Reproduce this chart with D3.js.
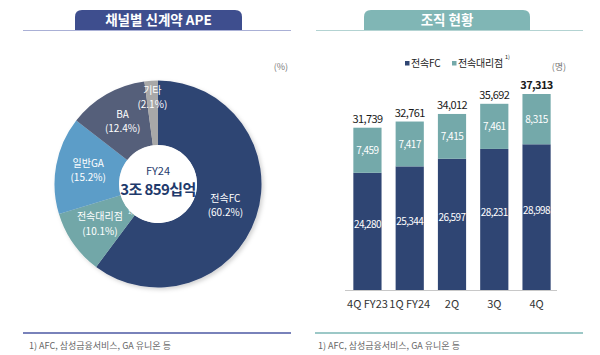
<!DOCTYPE html>
<html><head><meta charset="utf-8">
<script src="https://cdn.jsdelivr.net/npm/d3@7"></script>
<style>
html,body{margin:0;padding:0;background:#fff;}
svg{display:block;font-family:"Noto Sans CJK KR","Noto Sans",sans-serif;}
</style></head>
<body><svg id="c" width="600" height="355"></svg>
<script>
// ---- Donut data (채널별 신계약 APE) ----
const channels = ["전속FC", "전속대리점", "일반GA", "BA", "기타"];
const channelShares = [60.2, 10.1, 15.2, 12.4, 2.1];
const channelColors = ["#2f4573", "#72a7a8", "#5c9dc8", "#555f7a", "#a8a8a8"];
const centerLabel = ["FY24", "3조 859십억"];

// ---- Bar data (조직 현황) ----
const quarters = ["4Q FY23", "1Q FY24", "2Q", "3Q", "4Q"];
const fcCounts = [24280, 25344, 26597, 28231, 28998];
const agencyCounts = [7459, 7417, 7415, 7461, 8315];
const totals = [31739, 32761, 34012, 35692, 37313];
const seriesNames = ["전속FC", "전속대리점"];
const seriesColors = ["#2f4573", "#74a9aa"];

const svg = d3.select("#c");
const fmt = d3.format(",");

// ================= LEFT PANEL =================
function banner(g, x0, x1, y0, y1, r, color, text) {
  const p = `M${x0},${y1} L${x0},${y0+r} Q${x0},${y0} ${x0+r},${y0} L${x1-r},${y0} Q${x1},${y0} ${x1},${y0+r} L${x1},${y1} Z`;
  g.append("path").attr("d", p).attr("fill", color);
  g.append("text").attr("x", (x0+x1)/2).attr("y", (y0+y1)/2 + 5)
    .attr("text-anchor", "middle").attr("fill", "#fff")
    .attr("font-size", 13.5).attr("font-weight", 700).text(text);
}
const L = svg.append("g");
banner(L, 75, 242, 10, 30, 7, "#3e4e8e", "채널별 신계약 APE");
L.append("line").attr("x1", 23).attr("x2", 291).attr("y1", 30.5).attr("y2", 30.5)
  .attr("stroke", "#aab0d6").attr("stroke-width", 1);
L.append("text").attr("x", 288).attr("y", 70).attr("text-anchor", "end")
  .attr("font-size", 9).attr("fill", "#777").text("(%)");

const cx = 158, cy = 184, rOut = 103.5, rIn = 39;
const defs = svg.append("defs");
const f = defs.append("filter").attr("id", "sh").attr("x", "-20%").attr("y", "-20%").attr("width", "140%").attr("height", "140%");
f.append("feDropShadow").attr("dx", 2).attr("dy", 2).attr("stdDeviation", 2).attr("flood-color", "#000").attr("flood-opacity", 0.18);

const pie = d3.pie().sort(null).value(d => d)(channelShares);
const arc = d3.arc().innerRadius(rIn).outerRadius(rOut);
const dg = L.append("g").attr("transform", `translate(${cx},${cy})`);
dg.append("g").attr("filter", "url(#sh)").selectAll("path").data(pie).join("path")
  .attr("d", arc).attr("fill", (d, i) => channelColors[i]);
dg.append("circle").attr("r", rIn).attr("fill", "#fff");

const lab = dg.selectAll("g.lab").data(pie).join("g").attr("class", "lab")
  .attr("transform", d => {
    const rr = (d.endAngle - d.startAngle) < 0.3 ? 86 : 71;
    const a = (d.startAngle + d.endAngle) / 2;
    return `translate(${rr*Math.sin(a)},${-rr*Math.cos(a) - 4.5})`;
  });
lab.append("text").attr("text-anchor", "middle").attr("y", 0)
  .attr("font-size", 10).attr("fill", "#fff")
  .text((d, i) => channels[i]);
lab.filter((d, i) => i === 1).append("text").attr("x", 28).attr("y", -6)
  .attr("font-size", 5.5).attr("fill", "#fff").text("1)");
lab.append("text").attr("text-anchor", "middle").attr("y", 14.5)
  .attr("font-size", 10).attr("fill", "#fff")
  .text((d, i) => `(${channelShares[i].toFixed(1)}%)`);

dg.append("text").attr("text-anchor", "middle").attr("y", -9)
  .attr("font-size", 11).attr("fill", "#1f3a6c").text(centerLabel[0]);
dg.append("text").attr("text-anchor", "middle").attr("y", 11)
  .attr("font-size", 15).attr("font-weight", 700).attr("letter-spacing", -0.6)
  .attr("fill", "#1f3a6c").text(centerLabel[1]);

L.append("line").attr("x1", 23).attr("x2", 291).attr("y1", 333).attr("y2", 333)
  .attr("stroke", "#4d58a3").attr("stroke-width", 1.5);
L.append("text").attr("x", 29).attr("y", 349).attr("font-size", 9).attr("fill", "#666")
  .text("1) AFC, 삼성금융서비스, GA 유니온 등");

// ================= RIGHT PANEL =================
const R = svg.append("g");
banner(R, 364, 530, 10, 30, 7, "#80b6b5", "조직 현황");
R.append("line").attr("x1", 316).attr("x2", 583).attr("y1", 30.5).attr("y2", 30.5)
  .attr("stroke", "#b3d3d2").attr("stroke-width", 1);

// legend
const lg = R.append("g");
const lx = [405, 452];
seriesNames.forEach((n, i) => {
  lg.append("rect").attr("x", lx[i]).attr("y", 61).attr("width", 4.5).attr("height", 4.5).attr("fill", seriesColors[i]);
  lg.append("text").attr("x", lx[i] + 6).attr("y", 67).attr("font-size", 10).attr("letter-spacing", -0.2).attr("fill", "#222").text(n);
});
lg.append("text").attr("x", 505).attr("y", 59).attr("font-size", 5.5).attr("fill", "#222").text("1)");
R.append("text").attr("x", 566).attr("y", 70).attr("text-anchor", "end")
  .attr("font-size", 9).attr("fill", "#777").text("(명)");

const x = d3.scaleBand().domain(quarters).range([347, 557]).paddingInner(0.333).paddingOuter(0.15);
const y = d3.scaleLinear().domain([4900, 37313]).range([290, 94]);

const bars = R.selectAll("g.bar").data(quarters).join("g").attr("class", "bar");
bars.append("rect").attr("x", d => x(d)).attr("width", x.bandwidth())
  .attr("y", (d, i) => y(fcCounts[i])).attr("height", (d, i) => y(4900) - y(fcCounts[i]))
  .attr("fill", seriesColors[0]);
bars.append("rect").attr("x", d => x(d)).attr("width", x.bandwidth())
  .attr("y", (d, i) => y(totals[i])).attr("height", (d, i) => y(fcCounts[i]) - y(totals[i]))
  .attr("fill", seriesColors[1]);
// segment labels
bars.append("text").attr("text-anchor", "middle").attr("x", d => x(d) + x.bandwidth()/2)
  .attr("y", (d, i) => (y(totals[i]) + y(fcCounts[i])) / 2 + 4)
  .attr("font-size", 10).attr("letter-spacing", -0.5).attr("fill", "#fff")
  .text((d, i) => fmt(agencyCounts[i]));
bars.append("text").attr("text-anchor", "middle").attr("x", d => x(d) + x.bandwidth()/2)
  .attr("y", (d, i) => (y(fcCounts[i]) + y(4900)) / 2 - 3)
  .attr("font-size", 10).attr("letter-spacing", -0.6).attr("fill", "#fff")
  .text((d, i) => fmt(fcCounts[i]));
bars.append("text").attr("text-anchor", "middle").attr("x", d => x(d) + x.bandwidth()/2)
  .attr("y", (d, i) => y(totals[i]) - 5)
  .attr("font-size", 11).attr("letter-spacing", -0.6)
  .attr("font-weight", (d, i) => i === totals.length - 1 ? 700 : 400)
  .attr("fill", "#1a1a1a")
  .text((d, i) => fmt(totals[i]));

const xAxis = R.append("g").attr("transform", "translate(0,290)")
  .call(d3.axisBottom(x).tickSize(0).tickPadding(10));
xAxis.select(".domain").attr("stroke", "#c8c8c8").attr("d", "M345,0.5H557");
xAxis.selectAll("text").attr("font-size", 11).attr("fill", "#333")
  .attr("font-family", "'Noto Sans CJK KR',sans-serif");

R.append("line").attr("x1", 315).attr("x2", 583).attr("y1", 333).attr("y2", 333)
  .attr("stroke", "#7bb6b5").attr("stroke-width", 1.5);
R.append("text").attr("x", 318).attr("y", 349).attr("font-size", 9).attr("fill", "#666")
  .text("1) AFC, 삼성금융서비스, GA 유니온 등");
</script></body></html>
